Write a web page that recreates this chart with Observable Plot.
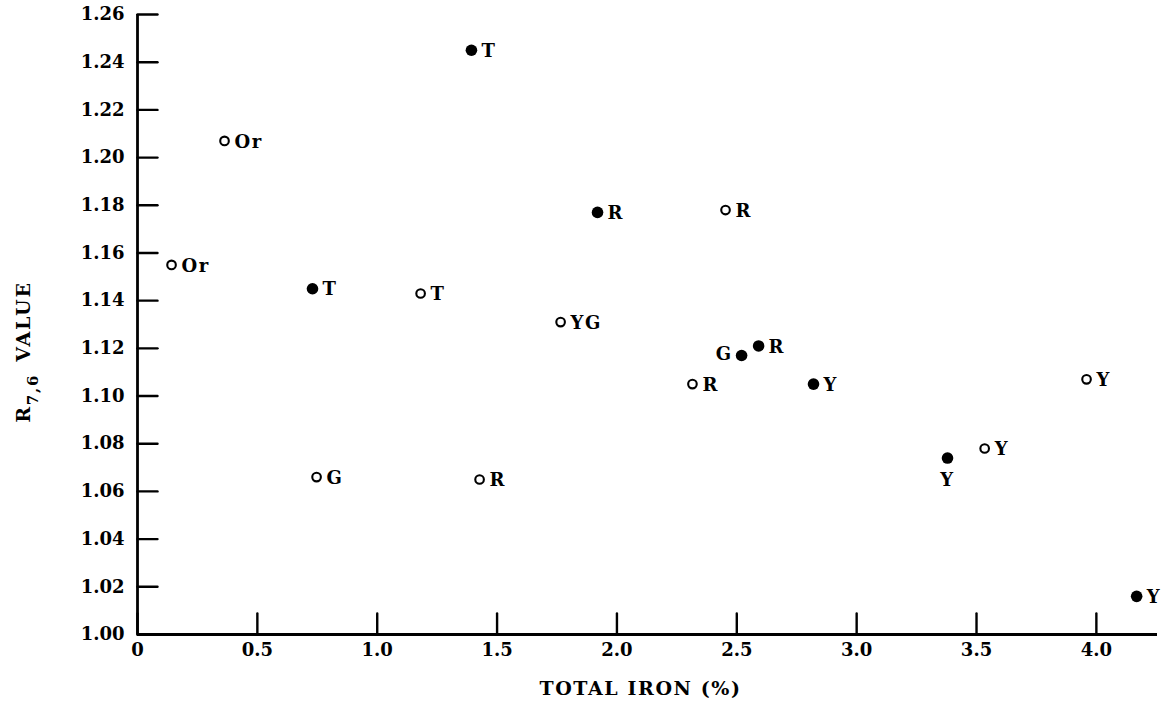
<!DOCTYPE html>
<html>
<head>
<meta charset="utf-8">
<script src="https://cdn.jsdelivr.net/npm/d3@7"></script>
<script src="https://cdn.jsdelivr.net/npm/@observablehq/plot@0.6"></script>
<style>
  html, body { margin: 0; padding: 0; background: #fff; }
  #chart svg { display: block; }
</style>
</head>
<body>
<div id="chart"></div>
<script>
// Data
const totalIron = [1.393, 0.363, 1.919, 2.453, 0.142, 0.730, 1.181, 1.765, 2.520, 2.591, 2.315, 2.820, 0.747, 1.427, 3.379, 3.534, 3.959, 4.168];
const r76Value  = [1.245, 1.207, 1.177, 1.178, 1.155, 1.145, 1.143, 1.131, 1.117, 1.121, 1.105, 1.105, 1.066, 1.065, 1.074, 1.078, 1.107, 1.016];
const colorCode = ["T", "Or", "R", "R", "Or", "T", "T", "YG", "G", "R", "R", "Y", "G", "R", "Y", "Y", "Y", "Y"];
const filled    = [true, false, true, false, false, true, false, false, true, true, false, true, false, false, true, false, false, true];

const xTicks = [0, 0.5, 1.0, 1.5, 2.0, 2.5, 3.0, 3.5, 4.0];
const yTicks = [1.00, 1.02, 1.04, 1.06, 1.08, 1.10, 1.12, 1.14, 1.16, 1.18, 1.20, 1.22, 1.24, 1.26];
const xLabel = "TOTAL IRON (%)";

const rows = totalIron.map((x, i) => ({x, y: r76Value[i], label: colorCode[i], filled: filled[i], i}));

// label placement (styling, not data)
const leftIdx = new Set([8]);
const belowIdx = new Set([14]);

const FONT = "DejaVu Serif";
const lineShape = {draw(context, l) { context.moveTo(0, 0); context.lineTo(0, -l); }};

const plot = Plot.plot({
  width: 1167,
  height: 712,
  marginLeft: 137,
  marginRight: 10,
  marginTop: 14,
  marginBottom: 78,
  style: {fontFamily: FONT, fontSize: "18px", fontWeight: "bold", color: "#000", background: "#fff"},
  x: {domain: [0, 4.255], ticks: xTicks},
  y: {domain: [1.0, 1.26], ticks: yTicks},
  marks: [
    Plot.axisX({ticks: xTicks, tickSize: 0, tickPadding: 9,
      tickFormat: d => d === 0 ? "0" : d.toFixed(1), label: null, fontSize: 18}),
    Plot.axisY({ticks: yTicks, tickSize: 0, tickPadding: 13,
      tickFormat: d => d.toFixed(2), label: null, fontSize: 18}),
    Plot.vector(xTicks, {x: d => d, frameAnchor: "bottom", length: 21, rotate: 0, anchor: "start",
      shape: lineShape, stroke: "#000", strokeWidth: 2.4}),
    Plot.vector(yTicks, {y: d => d, frameAnchor: "left", length: 20, rotate: 90, anchor: "start",
      shape: lineShape, stroke: "#000", strokeWidth: 2.4}),
    Plot.ruleX([0], {strokeWidth: 2.8}),
    Plot.ruleY([1.0], {strokeWidth: 2.8}),
    Plot.dot(rows.filter(d => !d.filled), {x: "x", y: "y", r: 4.3, stroke: "#000", strokeWidth: 2.1, fill: "#fff"}),
    Plot.dot(rows.filter(d => d.filled), {x: "x", y: "y", r: 5.8, fill: "#000", stroke: "none"}),
    Plot.text(rows.filter(d => !leftIdx.has(d.i) && !belowIdx.has(d.i)), {
      x: "x", y: "y", text: "label", textAnchor: "start", dx: 10, dy: 1, fontSize: 18, fill: "#000"}),
    Plot.text(rows.filter(d => leftIdx.has(d.i)), {
      x: "x", y: "y", text: "label", textAnchor: "end", dx: -9, dy: -1, fontSize: 18, fill: "#000"}),
    Plot.text(rows.filter(d => belowIdx.has(d.i)), {
      x: "x", y: "y", text: "label", textAnchor: "middle", dy: 22, fontSize: 18, fill: "#000"}),
    Plot.text([xLabel], {frameAnchor: "bottom", dy: 60, dx: -7, fontSize: 19, fill: "#000"})
  ]
});

document.getElementById("chart").appendChild(plot);
const svg = d3.select(plot);
// letter spacing for the wide typewriter-like lettering
svg.selectAll("text").filter(function() { return this.textContent === xLabel; })
  .attr("letter-spacing", "1.6px");
svg.selectAll("text").filter(function() { return colorCode.includes(this.textContent); })
  .attr("letter-spacing", "1.5px");

// Y axis title with subscript
const t = svg.append("text")
  .attr("transform", "translate(30,352) rotate(-90)")
  .attr("text-anchor", "middle")
  .attr("font-family", FONT)
  .attr("font-weight", "bold")
  .attr("font-size", 19)
  .attr("letter-spacing", "1.8px")
  .attr("fill", "#000");
t.append("tspan").text("R");
t.append("tspan").attr("font-size", 15).attr("dy", 8).text("7,6");
t.append("tspan").attr("dy", -8).attr("dx", 12).text("VALUE");
</script>
</body>
</html>
